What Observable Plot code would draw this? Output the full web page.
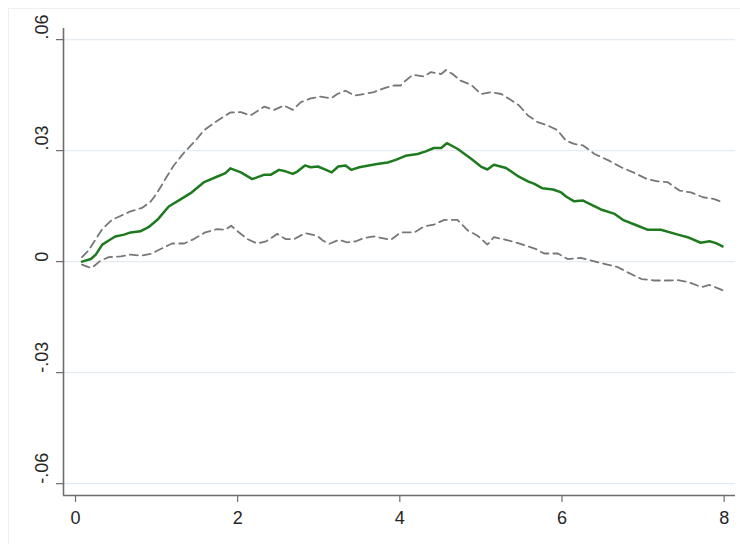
<!DOCTYPE html>
<html>
<head>
<meta charset="utf-8">
<script src="https://cdn.jsdelivr.net/npm/d3@7"></script>
<script src="https://cdn.jsdelivr.net/npm/@observablehq/plot@0.6"></script>
<style>
  html, body { margin: 0; padding: 0; background: #fff; }
  #wrap { position: relative; width: 740px; height: 544px; overflow: hidden; }
  #frame { position: absolute; left: 8px; top: 8px; width: 760px; height: 560px; border: 1px solid #efefef; box-sizing: border-box; }
  #chart { position: absolute; left: 0; top: 0; }
</style>
</head>
<body>
<div id="wrap"><div id="frame"></div><div id="chart"></div></div>
<script>
// Point estimate (green solid line)
const estX = [0.08,0.19,0.25,0.33,0.41,0.49,0.6,0.68,0.8,0.9,1.01,1.15,1.3,1.42,1.58,1.75,1.85,1.91,2.04,2.18,2.33,2.41,2.51,2.59,2.68,2.74,2.83,2.9,2.99,3.09,3.16,3.24,3.33,3.4,3.5,3.6,3.72,3.85,3.95,4.07,4.22,4.32,4.42,4.51,4.58,4.71,4.88,5.0,5.08,5.16,5.31,5.45,5.58,5.66,5.76,5.89,5.99,6.05,6.15,6.26,6.36,6.48,6.65,6.75,6.91,7.06,7.22,7.43,7.55,7.71,7.82,7.9,7.98];
const estY = [0,0.0007,0.0019,0.0046,0.0057,0.0068,0.0073,0.0079,0.0082,0.0093,0.0113,0.0149,0.0169,0.0185,0.0214,0.023,0.0239,0.0252,0.0241,0.0223,0.0235,0.0235,0.0248,0.0244,0.0237,0.0244,0.026,0.0255,0.0257,0.0248,0.0241,0.0257,0.026,0.0248,0.0255,0.0259,0.0264,0.0268,0.0275,0.0286,0.0291,0.0298,0.0307,0.0307,0.032,0.0305,0.0278,0.0257,0.0249,0.0262,0.0253,0.0232,0.0217,0.021,0.0198,0.0195,0.0187,0.0176,0.0163,0.0165,0.0154,0.0141,0.0129,0.0113,0.0099,0.0086,0.0086,0.0073,0.0066,0.0051,0.0055,0.005,0.0041];

// Upper confidence bound (dashed)
const upX = [0.08,0.16,0.25,0.33,0.45,0.56,0.68,0.82,0.93,1.01,1.11,1.21,1.34,1.48,1.58,1.75,1.91,2.04,2.16,2.33,2.45,2.57,2.68,2.78,2.9,3.02,3.15,3.23,3.33,3.44,3.56,3.68,3.81,3.93,4.01,4.07,4.16,4.3,4.38,4.51,4.57,4.65,4.75,4.88,5.0,5.12,5.25,5.37,5.47,5.58,5.7,5.82,5.94,6.05,6.15,6.26,6.4,6.58,6.73,6.9,7.04,7.18,7.3,7.45,7.59,7.74,7.88,7.96];
const upY = [0.0012,0.003,0.0061,0.0088,0.0113,0.0124,0.0136,0.0145,0.0163,0.0187,0.0224,0.0259,0.0295,0.0327,0.0354,0.0381,0.0403,0.0404,0.0395,0.0419,0.041,0.0422,0.041,0.0431,0.0441,0.0446,0.0441,0.0453,0.0462,0.0449,0.0453,0.0458,0.0469,0.0476,0.0476,0.0489,0.0505,0.05,0.0512,0.0507,0.0518,0.0507,0.0489,0.0478,0.0453,0.0458,0.0453,0.0437,0.0422,0.0395,0.0377,0.0368,0.0356,0.0327,0.0318,0.0314,0.0291,0.0273,0.0255,0.0239,0.0224,0.0217,0.0215,0.0192,0.0187,0.0174,0.0169,0.0162];

// Lower confidence bound (dashed)
const loX = [0.08,0.16,0.2,0.31,0.41,0.56,0.68,0.8,0.93,1.05,1.19,1.34,1.46,1.6,1.75,1.85,1.92,2.01,2.12,2.24,2.35,2.49,2.59,2.7,2.83,2.98,3.05,3.13,3.25,3.35,3.46,3.56,3.68,3.8,3.89,4.01,4.18,4.3,4.42,4.55,4.71,4.84,4.96,5.08,5.16,5.31,5.43,5.56,5.68,5.78,5.95,6.07,6.23,6.4,6.56,6.69,6.81,6.98,7.14,7.3,7.43,7.57,7.72,7.82,7.98];
const loY = [-0.0008,-0.0015,-0.0017,0.0003,0.0012,0.0014,0.0019,0.0016,0.0021,0.0034,0.0049,0.0049,0.0061,0.0079,0.0088,0.0086,0.0097,0.008,0.0061,0.0049,0.0055,0.0075,0.0061,0.0061,0.0077,0.007,0.0057,0.0048,0.0059,0.0052,0.0055,0.0064,0.0068,0.0063,0.0059,0.0079,0.0079,0.0095,0.01,0.0113,0.0113,0.0084,0.007,0.0046,0.0066,0.0059,0.0052,0.0043,0.0034,0.0022,0.0022,0.0007,0.001,0.0001,-0.0008,-0.0015,-0.0029,-0.0047,-0.0051,-0.0051,-0.005,-0.0056,-0.0069,-0.0063,-0.0077];

const xTicks = [0, 2, 4, 6, 8];
const xLabels = ["0", "2", "4", "6", "8"];
const yTicks = [-0.06, -0.03, 0, 0.03, 0.06];
const yLabels = ["-.06", "-.03", "0", ".03", ".06"];

const est = estX.map((x, i) => ({x, y: estY[i]}));
const up = upX.map((x, i) => ({x, y: upY[i]}));
const lo = loX.map((x, i) => ({x, y: loY[i]}));

const xDomain = [-0.148, 8.14];
const yDomain = [-0.0632, 0.063];
const axisColor = "#6e6e6e";
const textColor = "#262626";
const font = "Liberation Sans, Arial, sans-serif";

const chart = Plot.plot({
  width: 740,
  height: 544,
  marginLeft: 63,
  marginRight: 5,
  marginTop: 28,
  marginBottom: 49,
  style: {fontFamily: font, background: "transparent", color: textColor},
  x: {domain: xDomain},
  y: {domain: yDomain},
  marks: [
    Plot.gridY(yTicks, {stroke: "#e4ecf2", strokeOpacity: 1, strokeWidth: 1.2}),
    Plot.line(up, {x: "x", y: "y", stroke: "#777777", strokeWidth: 1.8, strokeDasharray: "8,5"}),
    Plot.line(lo, {x: "x", y: "y", stroke: "#777777", strokeWidth: 1.8, strokeDasharray: "8,5"}),
    Plot.line(est, {x: "x", y: "y", stroke: "#1e7a1e", strokeWidth: 2.5}),
    Plot.axisY({ticks: yTicks, tickSize: 7, tickFormat: () => "", stroke: axisColor, strokeWidth: 1.2, label: null}),
    Plot.text(yTicks, {y: d => d, text: (d, i) => yLabels[i], frameAnchor: "left", dx: -21, rotate: -90, fontSize: 18, fill: textColor}),
    Plot.axisX({ticks: xTicks, tickSize: 7, tickPadding: 9, tickFormat: (d, i) => xLabels[i], fontSize: 18, stroke: axisColor, strokeWidth: 1.2, fill: textColor, label: null}),
    Plot.ruleX([xDomain[0]], {stroke: axisColor, strokeWidth: 1.6}),
    Plot.ruleY([yDomain[0]], {stroke: axisColor, strokeWidth: 1.6})
  ]
});
document.getElementById("chart").appendChild(chart);
</script>
</body>
</html>
